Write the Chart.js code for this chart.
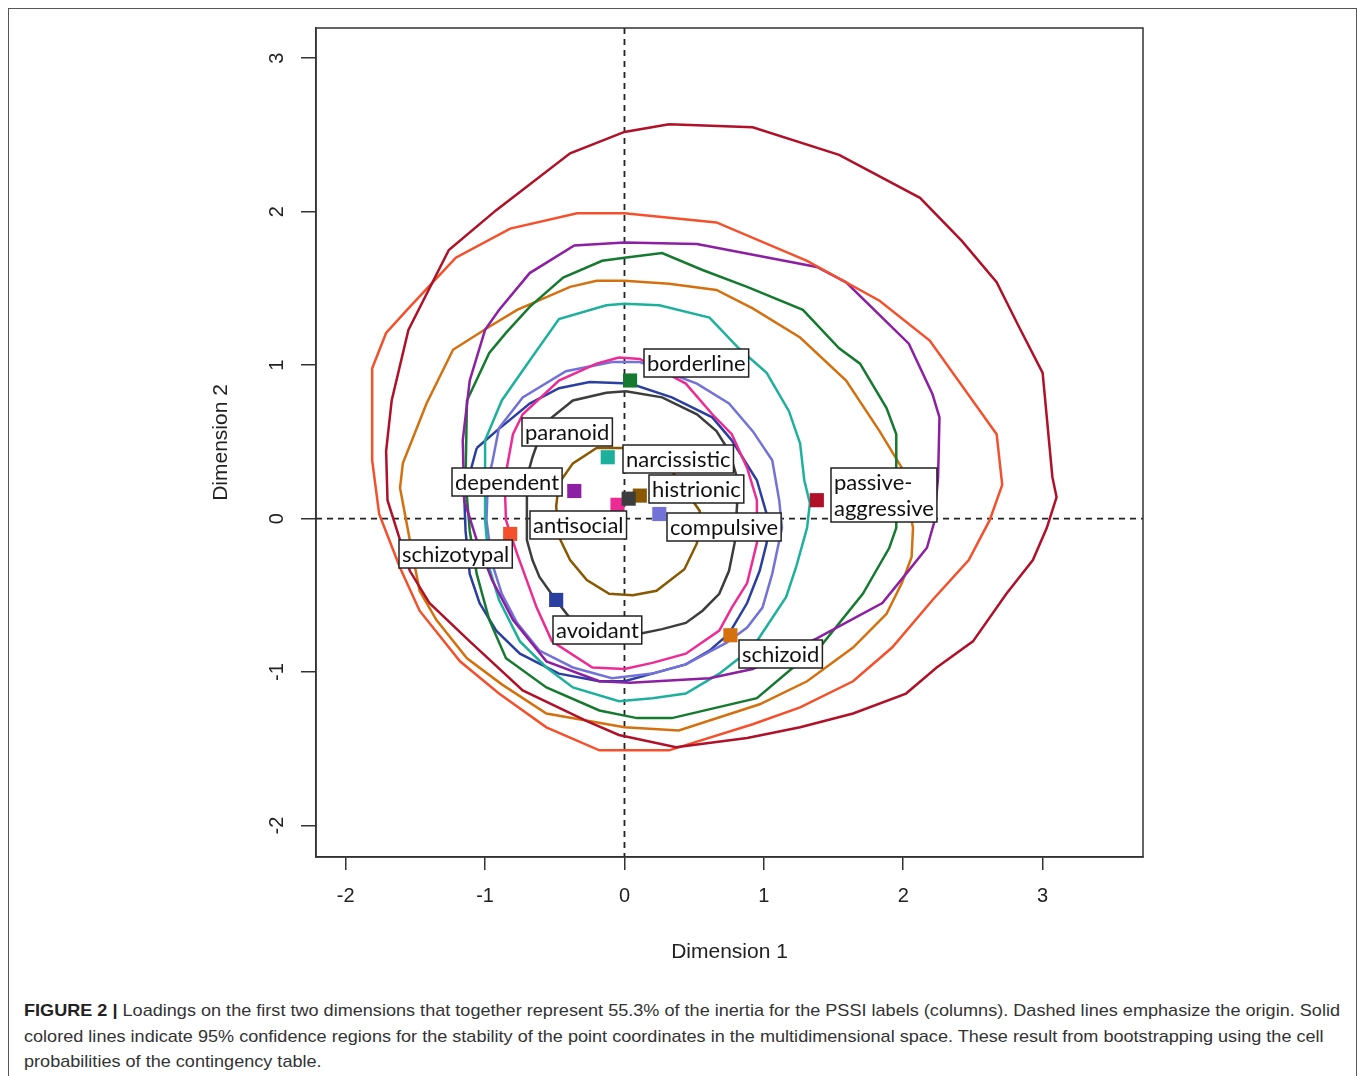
<!DOCTYPE html>
<html>
<head>
<meta charset="utf-8">
<script src="https://cdn.jsdelivr.net/npm/chart.js@4.4.1/dist/chart.umd.min.js"></script>
<style>
  html, body { margin: 0; padding: 0; background: #fff; }
  #frame { position: absolute; left: 8px; top: 8px; width: 1349px; height: 1100px; border: 1px solid #555; box-sizing: border-box; }
  #c { position: absolute; left: 0; top: 0; }
  #caption { position: absolute; left: 24px; top: 998px; font-family: "Liberation Sans", Arial, sans-serif;
             font-size: 17px; line-height: 25.5px; color: #333; white-space: nowrap; transform-origin: 0 0; }
  #caption b { color: #222; }
</style>
</head>
<body>
<div id="frame"></div>
<canvas id="c" width="1358" height="980"></canvas>
<div id="caption">
  <div id="cap1"><b>FIGURE 2 |</b> Loadings on the first two dimensions that together represent 55.3% of the inertia for the PSSI labels (columns). Dashed lines emphasize the origin. Solid</div>
  <div>colored lines indicate 95% confidence regions for the stability of the point coordinates in the multidimensional space. These result from bootstrapping using the cell</div>
  <div>probabilities of the contingency table.</div>
</div>
<script>
// ---------- DATA ----------
const names = ["borderline", "paranoid", "dependent", "antisocial", "histrionic", "narcissistic",
               "compulsive", "passive-aggressive", "schizotypal", "avoidant", "schizoid"];
const ptX = [0.04, -0.12, -0.36, -0.05, 0.11, 0.03, 0.25, 1.38, -0.82, -0.49, 0.76];
const ptY = [0.90, 0.40, 0.18, 0.09, 0.15, 0.13, 0.03, 0.12, -0.10, -0.53, -0.76];
const xTicks = [-2, -1, 0, 1, 2, 3];
const yTicks = [-2, -1, 0, 1, 2, 3];

// 95% confidence regions (dimension 1, dimension 2)
const regionPassiveAggressive = [[0.32,2.57],[0.92,2.55],[1.54,2.37],[2.12,2.09],[2.42,1.81],[2.67,1.54],[2.83,1.25],[3.00,0.95],[3.07,0.27],[3.10,0.14],[3.03,-0.06],[2.93,-0.27],[2.74,-0.49],[2.50,-0.80],[2.24,-0.97],[2.02,-1.14],[1.64,-1.27],[1.26,-1.36],[0.88,-1.43],[0.37,-1.49],[-0.04,-1.41],[-0.27,-1.32],[-0.73,-1.12],[-1.11,-0.80],[-1.40,-0.55],[-1.54,-0.34],[-1.61,-0.14],[-1.70,0.12],[-1.71,0.44],[-1.67,0.77],[-1.55,1.23],[-1.26,1.75],[-0.92,2.01],[-0.39,2.38],[0,2.52]];
const regionSchizotypal = [[0,1.99],[0.66,1.93],[1.31,1.68],[1.83,1.42],[2.19,1.16],[2.67,0.55],[2.71,0.22],[2.62,-0.01],[2.47,-0.27],[2.21,-0.53],[1.92,-0.84],[1.64,-1.06],[1.26,-1.23],[0.92,-1.34],[0.32,-1.51],[-0.18,-1.51],[-0.56,-1.36],[-0.90,-1.14],[-1.18,-0.93],[-1.47,-0.60],[-1.61,-0.32],[-1.76,0.03],[-1.81,0.38],[-1.81,0.70],[-1.81,0.98],[-1.71,1.21],[-1.54,1.38],[-1.21,1.70],[-0.82,1.89],[-0.34,1.99]];
const regionDependent = [[0,1.80],[0.52,1.79],[1.38,1.64],[1.59,1.54],[2.04,1.14],[2.21,0.81],[2.26,0.66],[2.25,0.27],[2.22,-0.03],[2.17,-0.19],[2.02,-0.36],[1.85,-0.55],[1.38,-0.78],[0.92,-0.98],[0.61,-1.04],[0.04,-1.07],[-0.18,-1.06],[-0.56,-0.93],[-0.80,-0.66],[-0.95,-0.40],[-1.06,-0.14],[-1.15,0.12],[-1.16,0.51],[-1.11,0.90],[-1.00,1.23],[-0.90,1.36],[-0.68,1.60],[-0.36,1.78]];
const regionBorderline = [[0,1.70],[0.27,1.73],[0.56,1.62],[0.88,1.51],[1.28,1.36],[1.54,1.11],[1.69,1.01],[1.88,0.72],[1.95,0.55],[1.95,-0.06],[1.90,-0.19],[1.71,-0.49],[1.40,-0.84],[1.21,-0.97],[0.95,-1.17],[0.34,-1.30],[0.09,-1.30],[-0.18,-1.25],[-0.56,-1.10],[-0.85,-0.91],[-0.97,-0.66],[-1.06,-0.36],[-1.11,-0.08],[-1.14,0.25],[-1.13,0.77],[-0.97,1.08],[-0.85,1.21],[-0.68,1.38],[-0.44,1.57],[-0.16,1.68]];
const regionSchizoid = [[0,1.55],[0.32,1.53],[0.66,1.49],[0.92,1.37],[1.26,1.18],[1.59,0.90],[1.83,0.57],[1.99,0.33],[2.07,-0.06],[2.06,-0.25],[1.99,-0.42],[1.88,-0.62],[1.64,-0.84],[1.31,-1.06],[0.97,-1.21],[0.39,-1.38],[0,-1.36],[-0.56,-1.27],[-0.88,-1.08],[-1.13,-0.91],[-1.35,-0.66],[-1.47,-0.47],[-1.54,-0.14],[-1.61,0.20],[-1.59,0.36],[-1.42,0.75],[-1.23,1.10],[-0.97,1.25],[-0.77,1.36],[-0.39,1.51],[-0.20,1.55]];
const regionParanoid = [[0,1.40],[0.25,1.39],[0.61,1.31],[0.82,1.11],[1.02,0.95],[1.18,0.70],[1.26,0.49],[1.29,0.25],[1.33,0.10],[1.31,-0.06],[1.23,-0.32],[1.16,-0.51],[0.92,-0.84],[0.68,-1.01],[0.44,-1.14],[0.20,-1.17],[-0.04,-1.19],[-0.37,-1.10],[-0.56,-0.97],[-0.75,-0.80],[-0.90,-0.53],[-0.97,-0.32],[-1.00,-0.01],[-1.00,0.51],[-0.88,0.77],[-0.68,1.03],[-0.47,1.30],[-0.13,1.39]];
const regionAntisocial = [[-0.04,1.05],[0.11,1.04],[0.44,0.88],[0.63,0.68],[0.77,0.55],[0.88,0.33],[0.95,0.12],[0.95,-0.16],[0.88,-0.42],[0.77,-0.58],[0.68,-0.73],[0.44,-0.88],[0.20,-0.94],[0,-0.98],[-0.23,-0.97],[-0.52,-0.80],[-0.63,-0.58],[-0.77,-0.23],[-0.85,-0.01],[-0.86,0.25],[-0.80,0.55],[-0.73,0.68],[-0.47,0.90],[-0.20,1.01]];
const regionCompulsive = [[-0.09,1.02],[0.11,1.02],[0.52,0.88],[0.75,0.75],[0.92,0.57],[1.06,0.38],[1.11,0.12],[1.13,-0.06],[1.06,-0.36],[0.99,-0.58],[0.88,-0.71],[0.73,-0.81],[0.44,-0.95],[0.20,-1.01],[-0.09,-1.04],[-0.37,-0.97],[-0.61,-0.86],[-0.77,-0.68],[-0.88,-0.49],[-0.95,-0.29],[-0.99,-0.01],[-0.98,0.25],[-0.95,0.36],[-0.90,0.59],[-0.73,0.79],[-0.42,0.96]];
const regionAvoidant = [[-1.06,0.46],[-0.92,0.57],[-0.68,0.75],[-0.47,0.85],[-0.25,0.89],[0.04,0.88],[0.34,0.79],[0.63,0.66],[0.77,0.51],[0.95,0.25],[1.02,0.03],[1.02,-0.16],[0.97,-0.34],[0.88,-0.55],[0.75,-0.75],[0.61,-0.86],[0.44,-0.95],[0.20,-1.01],[0,-1.06],[-0.18,-1.06],[-0.47,-1.01],[-0.75,-0.88],[-0.92,-0.73],[-1.04,-0.55],[-1.11,-0.36],[-1.14,-0.08],[-1.15,0.16]];
const regionNarcissistic = [[0.01,0.83],[0.27,0.79],[0.52,0.68],[0.66,0.57],[0.75,0.44],[0.80,0.29],[0.81,0.12],[0.79,-0.16],[0.75,-0.34],[0.68,-0.49],[0.56,-0.60],[0.44,-0.68],[0.27,-0.72],[0.11,-0.75],[-0.39,-0.65],[-0.50,-0.52],[-0.61,-0.38],[-0.66,-0.27],[-0.70,-0.14],[-0.70,0.12],[-0.70,0.27],[-0.66,0.40],[-0.61,0.53],[-0.52,0.66],[-0.37,0.77],[-0.13,0.82]];
const regionHistrionic = [[-0.09,0.46],[0.06,0.46],[0.34,0.31],[0.54,0.05],[0.52,-0.16],[0.43,-0.33],[0.23,-0.47],[0.06,-0.50],[-0.11,-0.49],[-0.27,-0.40],[-0.39,-0.27],[-0.47,-0.12],[-0.49,0.08],[-0.47,0.23],[-0.37,0.36],[-0.20,0.46]];

// ---------- STYLE ----------
const colorOf = {
  "borderline": "#157a2f", "paranoid": "#1db19d", "dependent": "#8c1fa3", "antisocial": "#ee2b95",
  "histrionic": "#8a5800", "narcissistic": "#3d3d3d", "compulsive": "#7272d8",
  "passive-aggressive": "#b01028", "schizotypal": "#f4502c", "avoidant": "#2b3fa3", "schizoid": "#d4700e"
};
const regions = [
  ["passive-aggressive", regionPassiveAggressive], ["schizotypal", regionSchizotypal],
  ["dependent", regionDependent], ["borderline", regionBorderline], ["schizoid", regionSchizoid],
  ["paranoid", regionParanoid], ["antisocial", regionAntisocial], ["compulsive", regionCompulsive],
  ["avoidant", regionAvoidant], ["narcissistic", regionNarcissistic], ["histrionic", regionHistrionic]
];
// label box centre, offset in px from the point
const labelOffset = {
  "borderline": [66, -18], "paranoid": [-41, -25], "dependent": [-67, -9], "antisocial": [-39, 20],
  "histrionic": [57, -7], "narcissistic": [50, -40], "compulsive": [65, 13],
  "passive-aggressive": [67, -5], "schizotypal": [-55, 20], "avoidant": [41, 30], "schizoid": [50, 19]
};
const axisFont = { family: "'Liberation Sans', Arial, sans-serif", size: 20 };
const labelFont = "22px Lato, 'Open Sans', sans-serif";
const ink = "#333";

// ---------- PLUGINS ----------
const origin = {
  id: "origin",
  beforeDatasetsDraw(c) {
    const { ctx, chartArea: a, scales: { x, y } } = c;
    ctx.save();
    ctx.strokeStyle = "#222"; ctx.lineWidth = 1.8; ctx.setLineDash([6, 5]);
    ctx.beginPath();
    ctx.moveTo(a.left, y.getPixelForValue(0)); ctx.lineTo(a.right, y.getPixelForValue(0));
    ctx.moveTo(x.getPixelForValue(0), a.top); ctx.lineTo(x.getPixelForValue(0), a.bottom);
    ctx.stroke();
    ctx.restore();
  }
};

const boxLabels = {
  id: "boxLabels",
  afterDatasetsDraw(c) {
    const { ctx, scales: { x, y } } = c;
    ctx.save();
    ctx.font = labelFont;
    ctx.textBaseline = "middle";
    names.forEach((n, i) => {
      const lines = n === "passive-aggressive" ? ["passive-", "aggressive"] : [n];
      const w = Math.max(...lines.map(l => ctx.measureText(l).width)) + 6;
      const lh = 26;
      const h = lines.length * lh + 2;
      const cx = x.getPixelForValue(ptX[i]) + labelOffset[n][0];
      const cy = y.getPixelForValue(ptY[i]) + labelOffset[n][1];
      const bx = Math.round(cx - w / 2), by = Math.round(cy - h / 2);
      ctx.fillStyle = "#fff";
      ctx.fillRect(bx, by, w, h);
      ctx.strokeStyle = "#222"; ctx.lineWidth = 1.5;
      ctx.strokeRect(bx, by, w, h);
      ctx.fillStyle = "#111";
      lines.forEach((l, k) => ctx.fillText(l, bx + 3, by + 1 + lh * k + lh / 2 + 1));
    });
    ctx.restore();
  }
};

const frameAndYTicks = {
  id: "frameAndYTicks",
  afterDraw(c) {
    const { ctx, chartArea: a, scales: { y } } = c;
    ctx.save();
    ctx.strokeStyle = ink; ctx.lineWidth = 1.5;
    ctx.strokeRect(a.left, a.top, a.right - a.left, a.bottom - a.top);
    ctx.font = `${axisFont.size}px ${axisFont.family}`;
    ctx.fillStyle = "#222";
    ctx.textAlign = "center"; ctx.textBaseline = "middle";
    yTicks.forEach(t => {
      ctx.save();
      ctx.translate(a.left - 39, y.getPixelForValue(t));
      ctx.rotate(-Math.PI / 2);
      ctx.fillText(String(t), 0, 0);
      ctx.restore();
    });
    ctx.restore();
  }
};

// ---------- CHART ----------
const datasets = [{
  data: names.map((n, i) => ({ x: ptX[i], y: ptY[i] })),
  pointStyle: "rect",
  pointRadius: 10,
  pointBorderWidth: 0,
  pointBackgroundColor: names.map(n => colorOf[n]),
  showLine: false
}].concat(regions.map(([n, pts]) => ({
  data: pts.concat([pts[0]]).map(p => ({ x: p[0], y: p[1] })),
  showLine: true,
  borderColor: colorOf[n],
  borderWidth: 2.5,
  pointRadius: 0,
  fill: false,
  tension: 0
})));

new Chart(document.getElementById("c"), {
  type: "scatter",
  data: { datasets },
  options: {
    responsive: false,
    animation: false,
    layout: { padding: { left: 209, right: 215, top: 28, bottom: 15 } },
    plugins: { legend: { display: false }, tooltip: { enabled: false } },
    scales: {
      x: {
        min: -2.213, max: 3.72,
        afterFit: s => { s.height = 108; },
        afterBuildTicks: s => { s.ticks = xTicks.map(v => ({ value: v })); },
        ticks: { font: axisFont, color: "#222", padding: 14 },
        grid: { drawOnChartArea: false, tickLength: 13, color: ink, lineWidth: 1.5 },
        border: { display: true, color: ink, width: 1.5 },
        title: { display: true, text: "Dimension 1", font: { ...axisFont, size: 21 }, color: "#222", padding: 0 }
      },
      y: {
        min: -2.205, max: 3.197,
        afterFit: s => { s.width = 107; },
        afterBuildTicks: s => { s.ticks = yTicks.map(v => ({ value: v })); },
        ticks: { display: false },
        grid: { drawOnChartArea: false, tickLength: 15, color: ink, lineWidth: 1.5 },
        border: { display: true, color: ink, width: 1.5 },
        title: { display: true, text: "Dimension 2", font: { ...axisFont, size: 21 }, color: "#222", padding: 0 }
      }
    }
  },
  plugins: [origin, boxLabels, frameAndYTicks]
});

// fit caption line width to the figure
const cap = document.getElementById("caption");
const w1 = document.getElementById("cap1").getBoundingClientRect().width;
cap.style.transform = `scaleX(${1316 / w1})`;
</script>
</body>
</html>
